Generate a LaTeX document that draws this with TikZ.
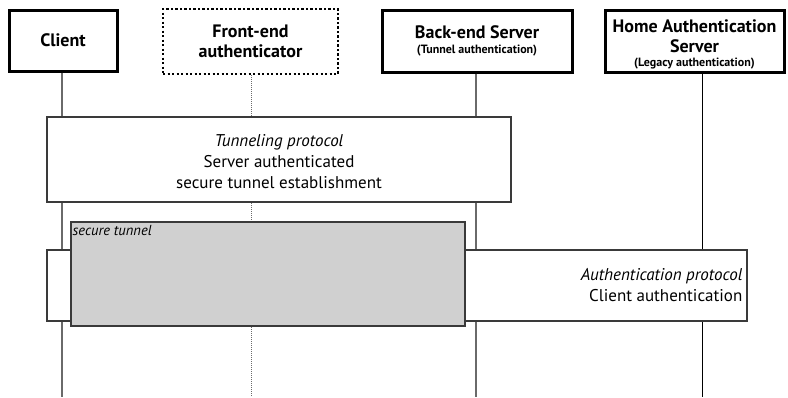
\documentclass[tikz,border=0pt]{standalone}
\usepackage{fontspec}
\setmainfont{PT Sans}
\definecolor{lifegray}{HTML}{6A6A6A}
\definecolor{tunnelgray}{HTML}{D0D0D0}
\definecolor{edgegray}{HTML}{3A3A3A}
\newcommand{\sublabel}[1]{{\fontsize{12}{13}\selectfont #1}}
\begin{document}
\begin{tikzpicture}[x=1pt,y=-1pt,
  header/.style={draw=black, line width=3pt, fill=white, align=center, font=\fontsize{18}{20}\selectfont\bfseries, inner sep=0pt},
  headerdot/.style={header, line width=2.6pt, dash pattern=on 2.4pt off 2.1pt},
  life/.style={draw=lifegray, line width=1.1pt},
  lifedot/.style={draw=lifegray, line width=1pt, densely dotted},
  proto/.style={draw=edgegray, line width=1.1pt, fill=white, inner sep=0pt},
  tunnelbox/.style={draw=edgegray, line width=1.1pt, fill=tunnelgray, inner sep=0pt},
  body/.style={font=\fontsize{17}{21}\selectfont, align=center, inner sep=0pt}
]
\useasboundingbox (0,0) rectangle (788,397);

% header boxes
\node[header, minimum width=108pt, minimum height=61pt] (client) at (63,40.5) {Client};
\node[headerdot, minimum width=175pt, minimum height=65pt] (front) at (250.5,41.5) {Front-end\\authenticator};
\node[header, minimum width=190pt, minimum height=62pt] (back) at (477,41) {Back-end Server\\[-5pt]\sublabel{(Tunnel authentication)}};
\node[header, minimum width=179pt, minimum height=62pt] (home) at (694.5,41) {\rule{0pt}{19pt}Home Authentication\\Server\\[-6pt]\sublabel{(Legacy authentication)}};

% lifeline ends
\coordinate (clientEnd) at (62,397);
\coordinate (frontEnd) at (251,397);
\coordinate (backEnd) at (476,397);
\coordinate (homeEnd) at (702,397);

\draw[life] (client.south -| clientEnd) -- (clientEnd);
\draw[lifedot] (front.south -| frontEnd) -- (frontEnd);
\draw[life] (back.south -| backEnd) -- (backEnd);
\draw[line width=0.9pt] (home.south -| homeEnd) -- (homeEnd);

% tunneling protocol
\node[proto, minimum width=464pt, minimum height=85pt] (tunproto) at (279,159.5) {};
\node[body] (tuntext) at (279,162) {\itshape Tunneling protocol\\Server authenticated\\secure tunnel establishment};

% authentication protocol
\node[proto, minimum width=700pt, minimum height=71pt] (authproto) at (397,285.5) {};
\node[body, align=right, anchor=east] (authtext) at ([xshift=-5pt,yshift=0pt]authproto.east) {\itshape Authentication protocol\\Client authentication};

% secure tunnel
\node[tunnelbox, minimum width=394pt, minimum height=104pt] (tunnel) at (268,274) {};
\node[anchor=north west, inner sep=0pt, font=\fontsize{14.5}{16}\selectfont\itshape] (tunlabel) at ([xshift=2pt,yshift=-4pt]tunnel.north west) {secure tunnel};
\end{tikzpicture}
\end{document}
